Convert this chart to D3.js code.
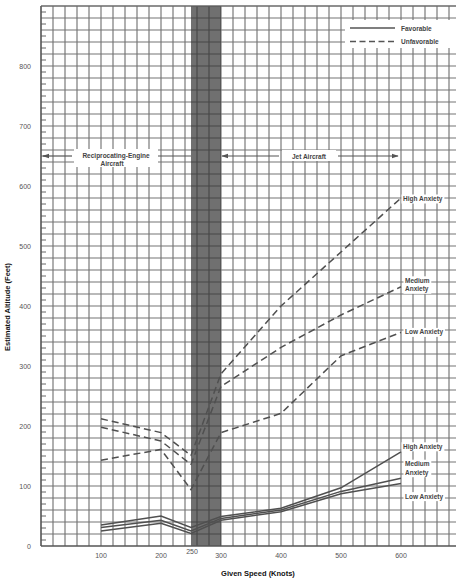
<!DOCTYPE html>
<html>
<head>
<meta charset="utf-8">
<script src="https://cdn.jsdelivr.net/npm/d3@7"></script>
<style>
  html, body { margin: 0; padding: 0; background: #fff; }
  svg { display: block; }
  text { font-family: "Liberation Sans", Arial, sans-serif; }
</style>
</head>
<body>
<svg id="chart" width="456" height="582"></svg>
<script>
// ---------------- data ----------------
const speeds = [100, 200, 250, 300, 400, 500, 600];
const unfavHigh   = [212, 189, 151, 287, 400, 490, 580];
const unfavMedium = [198, 175, 136, 266, 331, 385, 432];
const unfavLow    = [143, 161,  94, 189, 221, 317, 356];
const favHigh     = [35, 50, 31, 49, 63, 97, 157];
const favMedium   = [31, 43, 25, 46, 60, 91, 113];
const favLow      = [25, 38, 21, 43, 57, 87, 104];
const xTicks = [100, 200, 250, 300, 400, 500, 600];
const yTicks = [0, 100, 200, 300, 400, 500, 600, 700, 800];
const transitionBand = [250, 300];
const xTitle = "Given Speed (Knots)";
const yTitle = "Estimated Altitude (Feet)";
const legendLabels = ["Favorable", "Unfavorable"];

// ---------------- scales ----------------
const svg = d3.select("#chart");
const x = d3.scaleLinear().domain([0, 690]).range([41, 455]);
const y = d3.scaleLinear().domain([0, 900]).range([546, 6]);

// grid
const grid = svg.append("g");
const gx = d3.range(20, 690, 20);
const gy = d3.range(20, 901, 20);
grid.selectAll(".vg").data(gx).join("line")
  .attr("x1", d => x(d)).attr("x2", d => x(d))
  .attr("y1", y(900)).attr("y2", y(0))
  .attr("stroke", "#747474").attr("stroke-width", 1.15);
grid.selectAll(".hg").data(gy).join("line")
  .attr("x1", x(0)).attr("x2", 456)
  .attr("y1", d => y(d)).attr("y2", d => y(d))
  .attr("stroke", "#747474").attr("stroke-width", 1.15);

// small ticks on left axis (odd tens)
grid.selectAll(".mt").data(d3.range(10, 900, 20)).join("line")
  .attr("x1", x(0)).attr("x2", x(0) + 5)
  .attr("y1", d => y(d)).attr("y2", d => y(d))
  .attr("stroke", "#666").attr("stroke-width", 1);

// transition band (translucent so grid shows through)
svg.append("rect")
  .attr("x", x(transitionBand[0])).attr("width", x(transitionBand[1]) - x(transitionBand[0]))
  .attr("y", y(900)).attr("height", y(0) - y(900))
  .attr("fill", "#333").attr("opacity", 0.7);

// axes frame
svg.append("line").attr("x1", x(0)).attr("x2", x(0)).attr("y1", y(900)).attr("y2", y(0))
  .attr("stroke", "#555").attr("stroke-width", 1.6);
svg.append("line").attr("x1", x(0)).attr("x2", 456).attr("y1", y(0)).attr("y2", y(0))
  .attr("stroke", "#555").attr("stroke-width", 1.6);
svg.append("line").attr("x1", x(0)).attr("x2", 456).attr("y1", y(900)).attr("y2", y(900))
  .attr("stroke", "#666").attr("stroke-width", 1.2);

// tick labels
svg.selectAll(".yl").data(yTicks).join("text")
  .attr("x", 31).attr("y", d => y(d) + 2.5)
  .attr("text-anchor", "end").attr("font-size", 7).attr("fill", "#555")
  .text(d => d);
svg.selectAll(".xl").data(xTicks).join("text")
  .attr("x", d => x(d) + (d === 250 ? 1 : 0))
  .attr("y", d => d === 250 ? 554 : 558)
  .attr("text-anchor", "middle").attr("font-size", 7).attr("fill", "#555")
  .text(d => d);

// titles
svg.append("text").attr("x", 258).attr("y", 576).attr("text-anchor", "middle")
  .attr("font-size", 7.5).attr("font-weight", "bold").attr("fill", "#111").text(xTitle);
svg.append("text").attr("transform", "translate(10,307) rotate(-90)").attr("text-anchor", "middle")
  .attr("font-size", 7.5).attr("font-weight", "bold").attr("fill", "#111").text(yTitle);

// lines
const line = d3.line().x((d, i) => x(speeds[i])).y(d => y(d));
const series = [
  {v: unfavHigh, dash: "7,4"}, {v: unfavMedium, dash: "7,4"}, {v: unfavLow, dash: "7,4"},
  {v: favHigh, dash: null}, {v: favMedium, dash: null}, {v: favLow, dash: null}
];
svg.selectAll(".ln").data(series).join("path")
  .attr("d", d => line(d.v))
  .attr("fill", "none").attr("stroke", "#505050").attr("stroke-width", 1.5)
  .attr("stroke-dasharray", d => d.dash);

// end labels
function label(lines, lx, ly) {
  const g = svg.append("g");
  const t = g.append("text").attr("font-size", 6.5).attr("font-weight", "bold").attr("fill", "#444");
  lines.forEach((s, i) => t.append("tspan").attr("x", lx).attr("y", ly + i * 8.5).text(s));
  const bb = t.node().getBBox();
  g.insert("rect", "text").attr("x", bb.x - 1.5).attr("y", bb.y - 0.5)
    .attr("width", bb.width + 3).attr("height", bb.height + 1).attr("fill", "#fff");
}
label(["High Anxiety"], 403, y(unfavHigh[6]) + 3);
label(["Medium", "Anxiety"], 405, y(unfavMedium[6]) - 4);
label(["Low Anxiety"], 405, y(unfavLow[6]) + 2);
label(["High Anxiety"], 403, y(favHigh[6]) - 3);
label(["Medium", "Anxiety"], 405, y(favMedium[6]) - 12);
label(["Low Anxiety"], 405, y(favLow[6]) + 15);

// legend
const lg = svg.append("g");
lg.append("rect").attr("x", 345).attr("y", 20).attr("width", 111).attr("height", 28).attr("fill", "#fff");
lg.append("line").attr("x1", 350).attr("x2", 395).attr("y1", 28).attr("y2", 28)
  .attr("stroke", "#555").attr("stroke-width", 1.5);
lg.append("line").attr("x1", 350).attr("x2", 395).attr("y1", 41.5).attr("y2", 41.5)
  .attr("stroke", "#555").attr("stroke-width", 1.5).attr("stroke-dasharray", "6,3.5");
lg.selectAll(".lt").data(legendLabels).join("text")
  .attr("x", 401).attr("y", (d, i) => 30.5 + i * 13.5)
  .attr("font-size", 6.5).attr("font-weight", "bold").attr("fill", "#444").text(d => d);

// region annotations with arrows
const defs = svg.append("defs");
defs.append("marker").attr("id", "ah").attr("viewBox", "0 0 10 10").attr("refX", 9).attr("refY", 5)
  .attr("markerWidth", 6).attr("markerHeight", 6).attr("orient", "auto-start-reverse")
  .append("path").attr("d", "M0,1.5L10,5L0,8.5Z").attr("fill", "#555");
const annY = 156;
const ann = svg.append("g");
// reciprocating
ann.append("rect").attr("x", 74).attr("y", 149).attr("width", 84).attr("height", 18).attr("fill", "#fff");
ann.append("line").attr("x1", 72).attr("x2", 43).attr("y1", annY).attr("y2", annY)
  .attr("stroke", "#555").attr("stroke-width", 1.2).attr("marker-end", "url(#ah)");
ann.append("line").attr("x1", 158).attr("x2", x(transitionBand[0])).attr("y1", annY).attr("y2", annY)
  .attr("stroke", "#555").attr("stroke-width", 1.2);
ann.append("text").attr("x", 116).attr("y", 157.5).attr("text-anchor", "middle")
  .attr("font-size", 6.5).attr("font-weight", "bold").attr("fill", "#444").text("Reciprocating-Engine");
ann.append("text").attr("x", 112).attr("y", 165.5).attr("text-anchor", "middle")
  .attr("font-size", 6.5).attr("font-weight", "bold").attr("fill", "#444").text("Aircraft");
// jet
ann.append("rect").attr("x", 282).attr("y", 150).attr("width", 54).attr("height", 11).attr("fill", "#fff");
ann.append("line").attr("x1", 279).attr("x2", x(transitionBand[1]) + 1).attr("y1", annY).attr("y2", annY)
  .attr("stroke", "#555").attr("stroke-width", 1.2).attr("marker-end", "url(#ah)");
ann.append("line").attr("x1", 338).attr("x2", 398).attr("y1", annY).attr("y2", annY)
  .attr("stroke", "#555").attr("stroke-width", 1.2).attr("marker-end", "url(#ah)");
ann.append("text").attr("x", 309).attr("y", 158.5).attr("text-anchor", "middle")
  .attr("font-size", 6.5).attr("font-weight", "bold").attr("fill", "#444").text("Jet Aircraft");
</script>
</body>
</html>
